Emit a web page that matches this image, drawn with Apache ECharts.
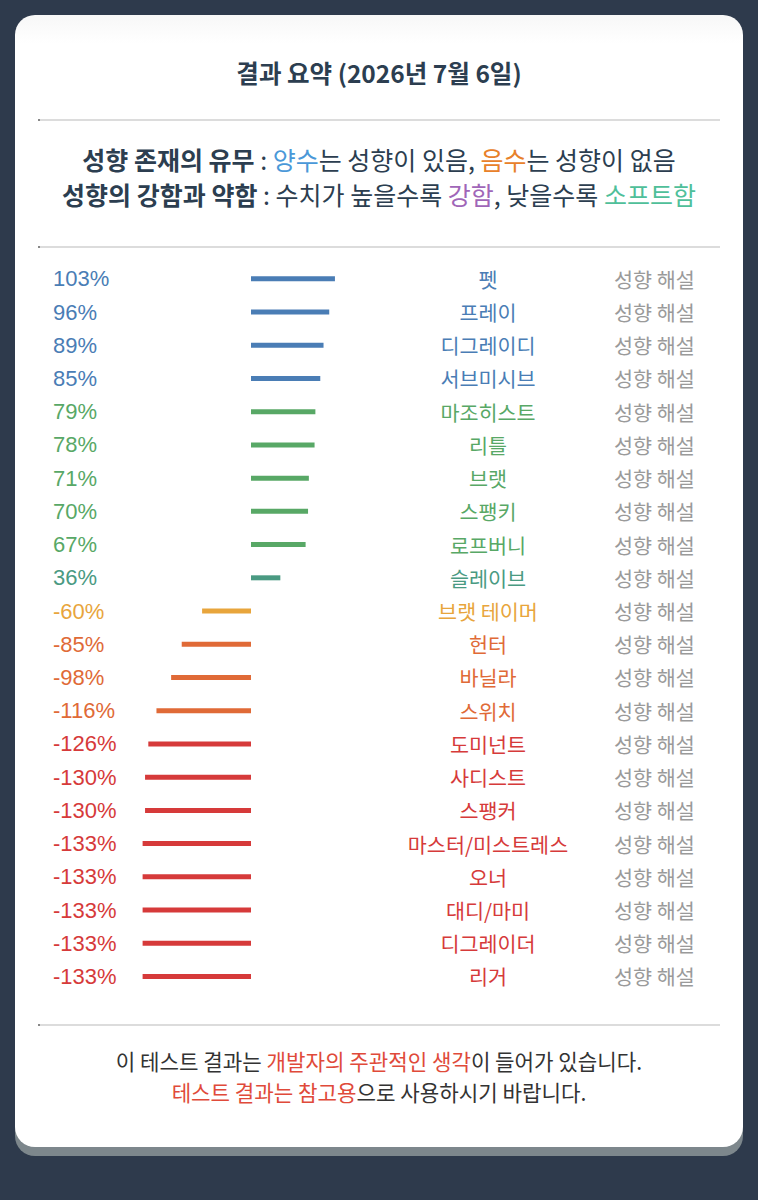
<!DOCTYPE html>
<html>
<head>
<meta charset="utf-8">
<script src="https://cdn.jsdelivr.net/npm/echarts@6/dist/echarts.min.js"></script>
<style>
  html, body { margin: 0; padding: 0; background: #2e3a4c; }
  #chart { width: 758px; height: 1200px; }
</style>
</head>
<body>
<div id="chart"></div>
<script>
// ---- data ----
const categories = ['펫','프레이','디그레이디','서브미시브','마조히스트','리틀','브랫','스팽키','로프버니','슬레이브','브랫 테이머','헌터','바닐라','스위치','도미넌트','사디스트','스팽커','마스터/미스트레스','오너','대디/마미','디그레이더','리거'];
const values = [103, 96, 89, 85, 79, 78, 71, 70, 67, 36, -60, -85, -98, -116, -126, -130, -130, -133, -133, -133, -133, -133];
const detailLabel = '성향 해설';
const titleText = '결과 요약 (2026년 7월 6일)';

function tierColor(v) {
  if (v >= 80) return '#4a7db5';
  if (v >= 50) return '#58a866';
  if (v > 0) return '#4a9a82';
  if (v > -70) return '#e8a53c';
  if (v > -120) return '#e06a37';
  return '#d63a3a';
}

const KR = '"Noto Sans CJK KR", "Noto Sans", sans-serif';
const chart = echarts.init(document.getElementById('chart'), null, { renderer: 'svg', width: 758, height: 1200 });

const dark = '#2c3e50';
const LEG = 25;
function divider(y) {
  return [
    { type: 'line', z: 5, shape: { x1: 38, y1: y, x2: 720, y2: y }, style: { stroke: '#dcdcdc', lineWidth: 2 } },
    { type: 'line', z: 6, shape: { x1: 38, y1: y, x2: 40, y2: y }, style: { stroke: '#888', lineWidth: 2 } }
  ];
}

const option = {
  backgroundColor: '#2e3a4c',
  animation: false,
  grid: { left: 88, width: 326, top: 262.2, height: 730.9, outerBoundsMode: 'none' },
  xAxis: { type: 'value', min: -200, max: 200, show: false },
  yAxis: [
    {
      type: 'category', data: categories, inverse: true, position: 'left',
      axisLine: { show: false }, axisTick: { show: false }, splitLine: { show: false },
      axisLabel: {
        margin: 35, align: 'left', fontSize: 22, fontFamily: '"Liberation Sans", Arial, sans-serif',
        formatter: (val, idx) => values[idx] + '%',
        color: (val, idx) => tierColor(values[idx])
      }
    },
    {
      type: 'category', data: categories, inverse: true, position: 'right',
      axisLine: { show: false }, axisTick: { show: false }, splitLine: { show: false },
      axisLabel: {
        margin: 74, align: 'center', fontSize: 20.7, fontFamily: KR,
        color: (val, idx) => tierColor(values[idx])
      }
    },
    {
      type: 'category', data: categories, inverse: true, position: 'right',
      axisLine: { show: false }, axisTick: { show: false }, splitLine: { show: false },
      axisLabel: {
        margin: 200, align: 'left', fontSize: 20.7, fontFamily: KR, color: '#9a9a9a',
        formatter: () => detailLabel
      }
    }
  ],
  series: [{
    type: 'bar',
    yAxisIndex: 0,
    data: values,
    barWidth: 5,
    itemStyle: { color: (p) => tierColor(p.value) }
  }],
  graphic: {
    elements: [
      { type: 'rect', z: -20, shape: { x: 15, y: 25, width: 728, height: 1131, r: 20 }, style: { fill: '#7d878c' } },
      { type: 'rect', z: -19, shape: { x: 15, y: 15, width: 728, height: 1132, r: 20 },
        style: { fill: new echarts.graphic.LinearGradient(0, 0, 0, 1, [
          { offset: 0, color: '#f7f7f7' }, { offset: 0.025, color: '#ffffff' }, { offset: 1, color: '#ffffff' }]) } },
      ...divider(120), ...divider(247), ...divider(1025),
      { type: 'text', z: 10, style: {
          text: titleText, x: 379, y: 72, align: 'center', verticalAlign: 'middle',
          fontSize: 24.5, fontWeight: 'bold', fontFamily: KR, fill: dark } },
      { type: 'text', z: 10, style: {
          text: '{b|성향 존재의 유무} : {blue|양수}는 성향이 있음, {orange|음수}는 성향이 없음',
          x: 379, y: 159, align: 'center', verticalAlign: 'middle',
          fontSize: LEG, fontFamily: KR, fill: dark,
          rich: {
            b: { fontWeight: 'bold', fontSize: LEG, fontFamily: KR, fill: dark },
            blue: { fontSize: LEG, fontFamily: KR, fill: '#4a98d8' },
            orange: { fontSize: LEG, fontFamily: KR, fill: '#e8812a' }
          } } },
      { type: 'text', z: 10, style: {
          text: '{b|성향의 강함과 약함} : 수치가 높을수록 {purple|강함}, 낮을수록 {teal|소프트함}',
          x: 379, y: 194, align: 'center', verticalAlign: 'middle',
          fontSize: LEG, fontFamily: KR, fill: dark,
          rich: {
            b: { fontWeight: 'bold', fontSize: LEG, fontFamily: KR, fill: dark },
            purple: { fontSize: LEG, fontFamily: KR, fill: '#a066b8' },
            teal: { fontSize: LEG, fontFamily: KR, fill: '#4fbf9a' }
          } } },
      { type: 'text', z: 10, style: {
          text: '이 테스트 결과는 {r|개발자의 주관적인 생각}이 들어가 있습니다.',
          x: 379, y: 1060, align: 'center', verticalAlign: 'middle',
          fontSize: 21.2, fontFamily: KR, fill: '#333333',
          rich: { r: { fontSize: 21.2, fontFamily: KR, fill: '#e04a3a' } } } },
      { type: 'text', z: 10, style: {
          text: '{r|테스트 결과는 참고용}으로 사용하시기 바랍니다.',
          x: 379, y: 1091, align: 'center', verticalAlign: 'middle',
          fontSize: 21.2, fontFamily: KR, fill: '#333333',
          rich: { r: { fontSize: 21.2, fontFamily: KR, fill: '#e04a3a' } } } }
    ]
  }
};
chart.setOption(option);
</script>
</body>
</html>
